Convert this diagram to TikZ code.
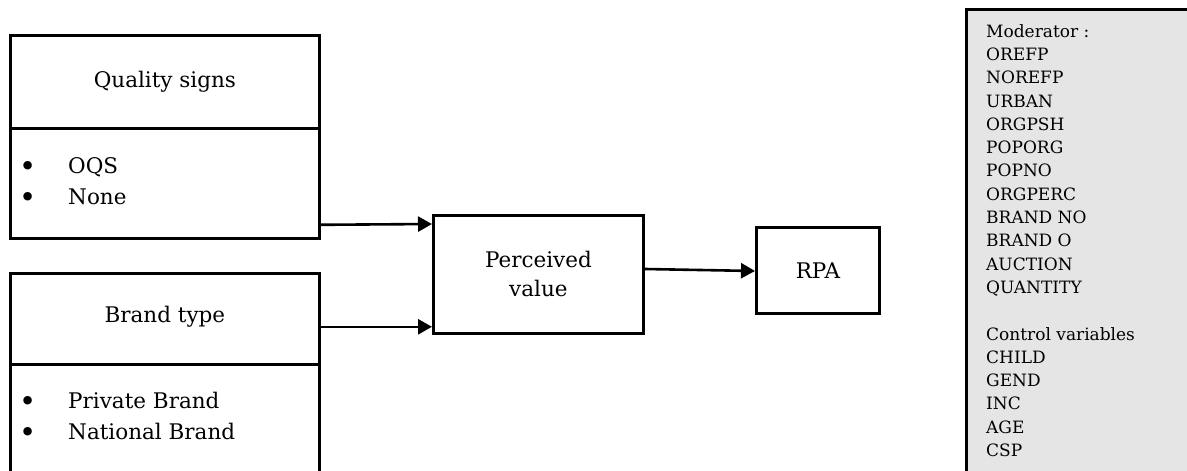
\documentclass[tikz,border=0pt]{standalone}
\usepackage{fontspec}
\setmainfont{DejaVu Serif}[Scale=1]
\usetikzlibrary{arrows.meta,calc}
\tikzset{
  box/.style={draw=black,line width=2.8pt,rectangle,inner sep=0pt,anchor=north west},
  arr/.style={line width=2.6pt,-{Triangle[length=14pt,width=15pt]}},
  lbl/.style={font=\fontsize{21.5}{29}\selectfont,align=center},
  blt/.style={font=\fontsize{21.5}{31}\selectfont,anchor=west,inner sep=0pt},
}
\newcommand{\bul}{\makebox[49pt][l]{\raisebox{-3pt}{\scalebox{1.35}{•}}}}
\begin{document}
\begin{tikzpicture}[x=1pt,y=-1pt]
\useasboundingbox (0,0) rectangle (1187,471);
% Quality signs
\node[box,minimum width=309pt,minimum height=93pt] (qtop) at (9,34) {};
\node[box,minimum width=309pt,minimum height=110pt] (qbot) at (9,127) {};
\node[lbl] (qtitle) at (qtop.center) {Quality signs};
\node[blt] (q1) at (19,167) {\bul OQS};
\node[blt] (q2) at (19,198) {\bul None};
% Brand type
\node[box,minimum width=309pt,minimum height=91pt] (btop) at (9,272) {};
\node[box,minimum width=309pt,minimum height=130pt] (bbot) at (9,363) {};
\node[lbl] (btitle) at ([yshift=2pt]btop.center) {Brand type};
\node[blt] (b1) at (19,402) {\bul Private Brand};
\node[blt] (b2) at (19,433) {\bul National Brand};
% Perceived value
\node[box,minimum width=210pt,minimum height=118pt] (pv) at (432,214) {};
\node[lbl] (pvt) at (pv.center) {Perceived\\value};
% RPA
\node[box,minimum width=123pt,minimum height=86pt] (rpa) at (755,226) {};
\node[lbl] (rpat) at (rpa.center) {RPA};
% Moderator box
\node[box,fill=black!10,minimum width=240pt,minimum height=480pt] (mod) at (965,8) {};
\node[anchor=north west,inner sep=0pt,align=left,font=\fontsize{17}{23.3}\selectfont] (modt) at (986,24) {Moderator :\\OREFP\\NOREFP\\URBAN\\ORGPSH\\POPORG\\POPNO\\ORGPERC\\BRAND NO\\BRAND O\\AUCTION\\QUANTITY\\[23.3pt]Control variables\\CHILD\\GEND\\INC\\AGE\\CSP};
% arrows
\draw[arr] ([yshift=15pt]qbot.south east) -- ([yshift=-10pt]pv.north west);
\draw[arr] ([yshift=39pt]btop.south east) -- ([yshift=8pt]pv.south west);
\draw[arr] ([yshift=-55pt]pv.north east) -- ([yshift=-45pt]rpa.north west);
\end{tikzpicture}
\end{document}
